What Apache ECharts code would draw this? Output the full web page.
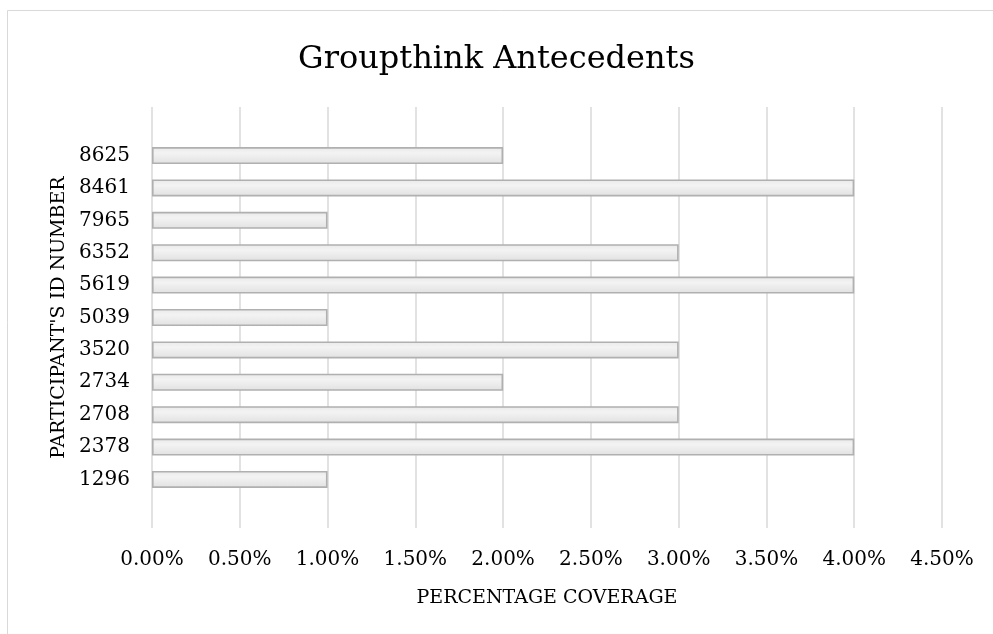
<!DOCTYPE html>
<html>
<head>
<meta charset="utf-8">
<title>Groupthink Antecedents</title>
<script src="https://cdn.jsdelivr.net/npm/echarts@6/dist/echarts.min.js"></script>
<style>
  html, body { margin: 0; padding: 0; background: #ffffff; }
  #chart { width: 993px; height: 634px; }
</style>
</head>
<body>
<div id="chart"></div>
<script>
// Participant IDs, listed from the bottom bar to the top bar
const participantIds = ['1296', '2378', '2708', '2734', '3520', '5039', '5619', '6352', '7965', '8461', '8625'];
// Percentage coverage for each participant (fraction of 1)
const coverage = [0.01, 0.04, 0.03, 0.02, 0.03, 0.01, 0.04, 0.03, 0.01, 0.04, 0.02];
// Value axis range and step
const axisMin = 0;
const axisMax = 0.045;
const axisStep = 0.005;

// One empty slot above and below the bars, as on the category axis
const yCategories = [''].concat(participantIds, ['']);
const barValues = [null].concat(coverage, [null]);

const FONT = '"DejaVu Serif", serif';
const chart = echarts.init(document.getElementById('chart'), null, { renderer: 'canvas' });

chart.setOption({
  backgroundColor: '#ffffff',
  animation: false,
  graphic: [{
    type: 'rect',
    silent: true,
    shape: { x: 7.5, y: 10.5, width: 1000, height: 700 },
    style: { fill: 'none', stroke: '#d9d9d9', lineWidth: 1 }
  }],
  title: {
    text: 'Groupthink Antecedents',
    left: 'center',
    top: 39,
    textStyle: { fontFamily: FONT, fontSize: 32, fontWeight: 'normal', color: '#000000' }
  },
  grid: { left: 152, right: 51, top: 107, bottom: 106, containLabel: false },
  xAxis: {
    type: 'value',
    min: axisMin,
    max: axisMax,
    interval: axisStep,
    name: 'PERCENTAGE COVERAGE',
    nameLocation: 'middle',
    nameGap: 61,
    nameTextStyle: { fontFamily: FONT, fontSize: 19, color: '#000000' },
    axisLine: { show: false },
    axisTick: { show: false },
    axisLabel: {
      margin: 22,
      fontFamily: FONT,
      fontSize: 20,
      color: '#000000',
      formatter: v => (v * 100).toFixed(2) + '%'
    },
    splitLine: { show: true, lineStyle: { color: '#d9d9d9', width: 1.5 } }
  },
  yAxis: {
    type: 'category',
    data: yCategories,
    name: "PARTICIPANT'S ID NUMBER",
    nameLocation: 'middle',
    nameRotate: 90,
    nameGap: 80,
    nameTextStyle: { fontFamily: FONT, fontSize: 19, color: '#000000' },
    axisLine: { show: false },
    axisTick: { show: false },
    axisLabel: { margin: 22, fontFamily: FONT, fontSize: 20, color: '#000000' },
    splitLine: { show: false }
  },
  series: [{
    type: 'bar',
    data: barValues,
    barWidth: 17,
    itemStyle: {
      color: new echarts.graphic.LinearGradient(0, 0, 0, 1, [
        { offset: 0, color: '#e9e9e9' },
        { offset: 0.35, color: '#f3f3f3' },
        { offset: 1, color: '#e1e1e1' }
      ]),
      borderColor: '#b0b0b0',
      borderWidth: 1.6
    }
  }]
});
</script>
</body>
</html>
